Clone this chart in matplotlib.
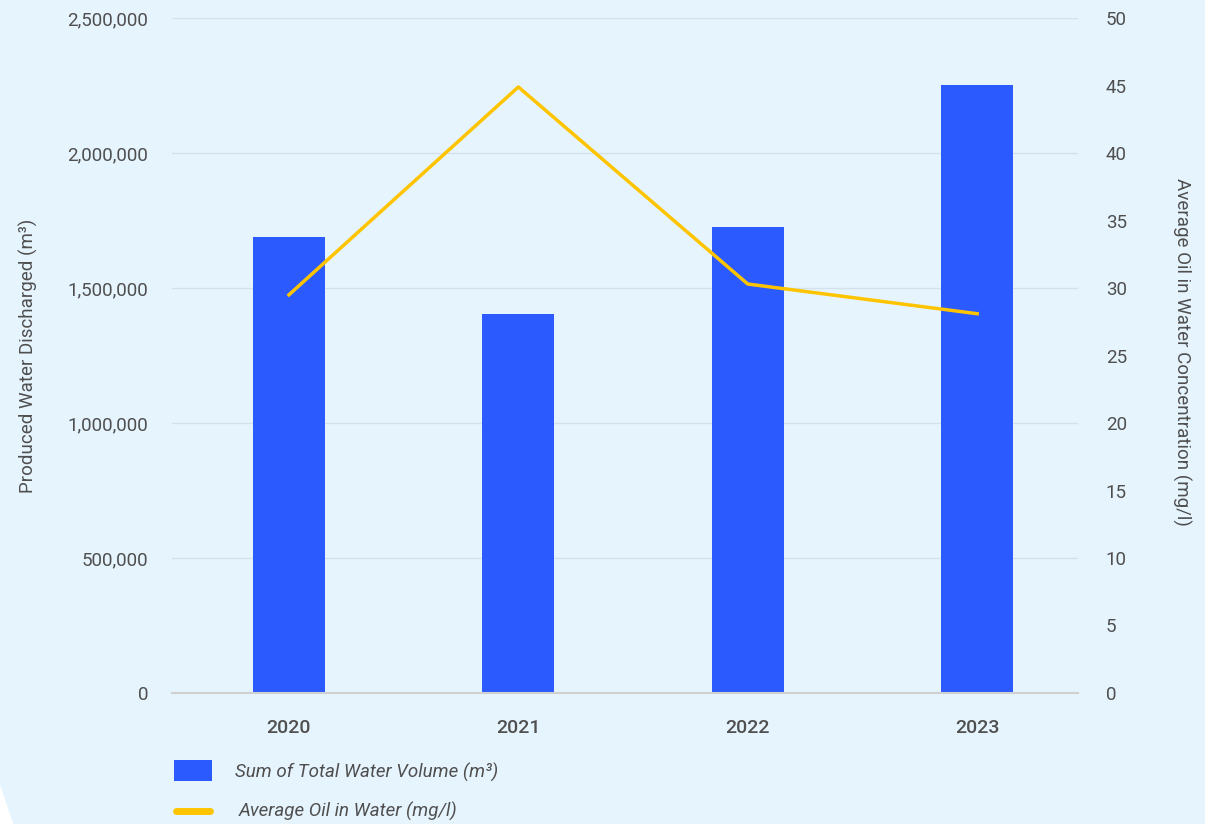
import numpy as np
import matplotlib.pyplot as plt
from matplotlib.patches import Polygon, Rectangle
from matplotlib.lines import Line2D

years = ["2020", "2021", "2022", "2023"]
water_volume = [1690000, 1405000, 1725000, 2252000]
oil_in_water = [29.5, 44.9, 30.3, 28.1]

BG = "#e6f4fe"
BAR_COLOR = "#2b5aff"
LINE_COLOR = "#ffc400"
TEXT = "#4f4f4f"

plt.rcParams['font.family'] = ['Roboto', 'DejaVu Sans']

fig = plt.figure(figsize=(12.05, 8.24), dpi=100, facecolor=BG)
ax = fig.add_axes([0.1427, 0.159, 0.752, 0.819])
ax.set_facecolor(BG)

# white corner, bottom left
fig.patches.append(Polygon([[0, 0], [0, 0.048], [0.011, 0]], closed=True,
                           transform=fig.transFigure, facecolor="white",
                           edgecolor="none"))

x = np.arange(len(years))
ax.bar(x, water_volume, width=0.314, color=BAR_COLOR, zorder=3)
ax.set_xlim(-0.51, 3.44)
ax.set_ylim(0, 2500000)
ax.set_yticks(np.arange(0, 2500001, 500000))
ax.set_yticklabels([f"{v:,}" for v in range(0, 2500001, 500000)])
ax.set_xticks(x)
ax.set_xticklabels(years, fontweight="medium", fontsize=14)
ax.grid(axis="y", color="#d5e1ea", linewidth=1, zorder=0)
for s in ["top", "right", "left"]:
    ax.spines[s].set_visible(False)
ax.spines["bottom"].set_color("#d0d0d0")
ax.spines["bottom"].set_linewidth(1.5)
ax.spines["bottom"].set_zorder(4)
ax.tick_params(axis="both", length=0, labelsize=13.5, colors=TEXT)
ax.tick_params(axis="y", pad=17)
ax.tick_params(axis="x", pad=19)
for lbl in ax.get_xticklabels():
    lbl.set_fontsize(14)
ax.set_ylabel("Produced Water Discharged (m³)", fontsize=13.5, color=TEXT)
ax.yaxis.set_label_coords(-0.148, 0.5)

ax2 = ax.twinx()
ax2.plot(x, oil_in_water, color=LINE_COLOR, linewidth=2.5, zorder=5)
ax2.set_ylim(0, 50)
ax2.set_yticks(np.arange(0, 51, 5))
for s in ax2.spines.values():
    s.set_visible(False)
ax2.tick_params(axis="y", length=0, labelsize=13.5, colors=TEXT, pad=20)
ax2.set_ylabel("Average Oil in Water Concentration (mg/l)", fontsize=13.5,
               color=TEXT, rotation=-90, va="bottom")
ax2.yaxis.set_label_coords(1.104, 0.505)

# legend drawn below the plot
fig.patches.append(Rectangle((174 / 1205, 1 - 781 / 824), 38 / 1205, 21 / 824,
                             transform=fig.transFigure, facecolor=BAR_COLOR,
                             edgecolor="none"))
fig.text(235 / 1205, 1 - 772 / 824, "Sum of Total Water Volume (m³)",
         fontsize=13.5, style="italic", color=TEXT, va="center")
fig.lines.append(Line2D([176 / 1205, 210 / 1205], [1 - 811 / 824, 1 - 811 / 824],
                        transform=fig.transFigure, color=LINE_COLOR,
                        linewidth=5, solid_capstyle="round"))
fig.text(239 / 1205, 1 - 811 / 824, "Average Oil in Water (mg/l)",
         fontsize=13.5, style="italic", color=TEXT, va="center")

fig.savefig("out.png", dpi=100, facecolor=BG)
